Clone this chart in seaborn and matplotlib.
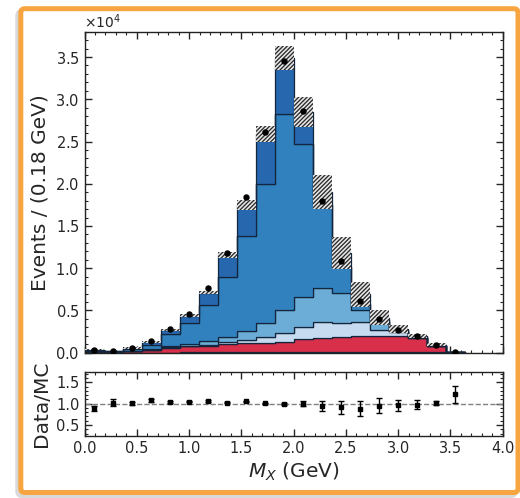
import numpy as np
import pandas as pd
import matplotlib
matplotlib.use("Agg")
import matplotlib.pyplot as plt
import seaborn as sns
from matplotlib.patches import FancyBboxPatch
from matplotlib.ticker import MultipleLocator

# ---------------- data (events per bin) ----------------
n_bins_axis = 22          # 4 GeV / 22 bins = 0.18 GeV
x_lo, x_hi = 0.0, 4.0
n_filled = 20

orange = [10, 5, 10, 10, 20, 30, 30, 40, 40, 50, 50, 80, 100, 100, 100, 100, 100, 100, 80, 3]
red    = [90, 60, 140, 290, 530, 720, 820, 950, 1070, 1130, 1250, 1500, 1600, 1720, 1870, 1870, 1870, 1600, 670, 60]
light  = [30, 20, 30, 50, 70, 100, 120, 260, 390, 640, 1070, 1420, 1970, 1730, 1700, 710, 430, 70, 50, 3]
medium = [50, 30, 60, 100, 130, 200, 380, 550, 1100, 1730, 2680, 3600, 4030, 3500, 1380, 920, 150, 60, 40, 3]
blue   = [120, 70, 160, 460, 1420, 2420, 4290, 7190, 11200, 16400, 23150, 18160, 9800, 3150, 700, 300, 150, 70, 50, 6]
top    = [70, 35, 180, 390, 510, 930, 1470, 2560, 3660, 5950, 6690, 3740, 1480, 1550, 1150, 250, 100, 60, 60, 5]
mc_unc = [20, 15, 100, 120, 115, 140, 210, 390, 600, 950, 1380, 1780, 2000, 1900, 1460, 900, 480, 260, 160, 20]
data   = [330, 225, 585, 1400, 2790, 4620, 7600, 11850, 18400, 26100, 34500, 28600, 18000, 10800, 6100, 3950, 2690, 1920, 970, 98]
ratio_err = [0.06, 0.08, 0.04, 0.03, 0.03, 0.02, 0.02, 0.02, 0.02, 0.02, 0.02, 0.06, 0.11, 0.15, 0.17, 0.18, 0.13, 0.10, 0.05, 0.20]

components = ["top", "blue", "medium", "light", "red", "orange"]   # top of stack first
comp_values = {"top": top, "blue": blue, "medium": medium, "light": light, "red": red, "orange": orange}
palette = {"top": "#2767ae", "blue": "#3181bf", "medium": "#6badd6", "light": "#c6dbef",
           "red": "#d8304a", "orange": "#f2a04c"}

edges = np.linspace(x_lo, x_hi, n_bins_axis + 1)[: n_filled + 1]
centers = 0.5 * (edges[:-1] + edges[1:])
width = edges[1] - edges[0]

rows = []
for c in components:
    for xc, v in zip(centers, comp_values[c]):
        rows.append({"x": xc, "w": v, "comp": c})
df = pd.DataFrame(rows)

mc_total = np.sum([np.array(comp_values[c], float) for c in components], axis=0)
unc = np.array(mc_unc, float)
data_arr = np.array(data, float)
ratio = data_arr / mc_total

# ---------------- style ----------------
sns.set_style("ticks")
plt.rcParams["font.family"] = ["DejaVu Sans"]
plt.rcParams["hatch.linewidth"] = 0.95
plt.rcParams["mathtext.fontset"] = "dejavusans"

W, H = 520, 498
fig = plt.figure(figsize=(W / 100, H / 100), dpi=100)
fig.patch.set_facecolor("white")

# frame with shadow
fx0, fx1, fy0, fy1 = 20.8, 518.0, 8.7, 492.5
shadow = FancyBboxPatch(((fx0 - 3) / W, 1 - (fy1 + 3) / H), (fx1 - fx0) / W, (fy1 - fy0) / H,
                        boxstyle="round,pad=0,rounding_size=0.008", transform=fig.transFigure,
                        fc="#d9d9d9", ec="#d9d9d9", lw=3.6, zorder=-3)
frame = FancyBboxPatch((fx0 / W, 1 - fy1 / H), (fx1 - fx0) / W, (fy1 - fy0) / H,
                       boxstyle="round,pad=0,rounding_size=0.008", transform=fig.transFigure,
                       fc="white", ec="#f7a540", lw=3.6, zorder=-2)
fig.add_artist(shadow)
fig.add_artist(frame)

ax_l, ax_r = 84.5, 502.7
ax = fig.add_axes([ax_l / W, 1 - 352.7 / H, (ax_r - ax_l) / W, (352.7 - 31.7) / H])
axr = fig.add_axes([ax_l / W, 1 - 435.7 / H, (ax_r - ax_l) / W, (435.7 - 371.7) / H], sharex=ax)

sns.histplot(data=df, x="x", weights="w", hue="comp", hue_order=components, palette=palette,
             multiple="stack", element="step", fill=True, bins=[float(e) for e in edges], alpha=1,
             edgecolor="#14263d", linewidth=0.9, legend=False, ax=ax)

ax.bar(centers, 2 * unc, bottom=mc_total - unc, width=width, color="#e8e8e8",
       edgecolor="#2a2a2a", hatch="////////", linewidth=0, zorder=3)
ax.plot(centers, data_arr, "o", color="black", ms=3.6, zorder=4)

ax.set_xlim(x_lo, x_hi)
ax.set_ylim(0, 38000)
ax.set_ylabel("Events / (0.18 GeV)", fontsize=14.5)
ax.set_xlabel("")
ax.ticklabel_format(axis="y", style="sci", scilimits=(0, 0), useMathText=True)
ax.yaxis.get_offset_text().set_fontsize(10)
ax.yaxis.set_major_locator(MultipleLocator(5000))
ax.yaxis.set_minor_locator(MultipleLocator(1000))

axr.axhline(1.0, color="grey", ls="--", lw=1)
axr.errorbar(centers, ratio, yerr=ratio_err, fmt="s", color="black", ms=3, capsize=2,
             elinewidth=1, capthick=1)
axr.set_ylim(0.25, 1.75)
axr.set_ylabel("Data/MC", fontsize=14.5)
axr.set_xlabel("$M_X$ (GeV)", fontsize=14.5)
axr.yaxis.set_major_locator(MultipleLocator(0.5))
axr.yaxis.set_minor_locator(MultipleLocator(0.1))

for a in (ax, axr):
    a.xaxis.set_major_locator(MultipleLocator(0.5))
    a.xaxis.set_minor_locator(MultipleLocator(0.1))
    a.tick_params(which="both", direction="in", top=True, right=True, labelsize=10.5)
    a.tick_params(which="major", length=5, width=1)
    a.tick_params(which="minor", length=2.5, width=0.8)
    for s in a.spines.values():
        s.set_linewidth(1.0)
        s.set_color("#222222")
ax.tick_params(axis="x", which="both", labelbottom=False)

fig.align_ylabels([ax, axr])
fig.savefig("out.png", dpi=100)
